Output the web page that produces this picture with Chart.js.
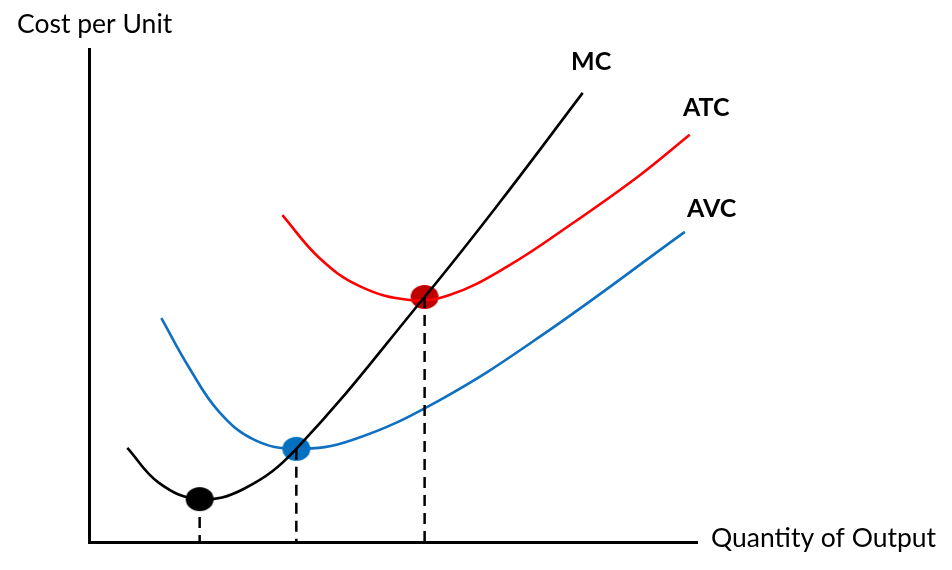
<!DOCTYPE html>
<html>
<head>
<meta charset="utf-8">
<script src="https://cdn.jsdelivr.net/npm/chart.js@4/dist/chart.umd.min.js"></script>
<style>
  html, body { margin: 0; padding: 0; background: #fff; }
  #wrap { position: relative; width: 952px; height: 570px; }
</style>
</head>
<body>
<div id="wrap"><canvas id="chart"></canvas></div>
<script>
// curves: x = quantity, y = cost (both on a 0..100 scale)
const mcX = [6.3, 11.5, 18.1, 25.5, 34.1, 55.2, 67.5, 81.2];
const mcY = [19.1, 12.0, 8.7, 10.8, 18.9, 49.7, 68.8, 91.1];

const atcX = [31.8, 37.9, 44.5, 52.7, 59.3, 68.7, 79.6, 90.6, 98.8];
const atcY = [66.3, 57.6, 51.9, 49.1, 50.1, 55.8, 64.7, 74.4, 82.6];

const avcX = [11.9, 16.5, 21.4, 27.2, 34.1, 43.3, 57.7, 74.1, 98.0];
const avcY = [45.4, 35.3, 26.4, 20.7, 18.9, 20.7, 28.8, 41.6, 62.9];

// the three marked points: min of MC, min of AVC, min of ATC
const dotX = [18.2, 34.1, 55.2];
const dotY = [8.7, 18.9, 49.7];
const dotColors = ['#000000', '#0070C0', '#C00000'];

const curveLabels = ['MC', 'ATC', 'AVC'];
const yTitle = 'Cost per Unit';
const xTitle = 'Quantity of Output';

const FONT = 'Lato, "Open Sans", sans-serif';

function toPoints(xs, ys) {
    return xs.map((x, i) => ({ x: x, y: ys[i] }));
}

// flattened circle, the dots in the picture are a little wider than tall
function ellipseDot(color) {
    const c = document.createElement('canvas');
    c.width = 30;
    c.height = 26;
    const g = c.getContext('2d');
    g.fillStyle = color;
    g.beginPath();
    g.ellipse(15, 13, 14, 12, 0, 0, Math.PI * 2);
    g.fill();
    return c;
}

function curve(label, xs, ys, color) {
    return {
        label: label,
        data: toPoints(xs, ys),
        showLine: true,
        borderColor: color,
        borderWidth: 2.6,
        pointRadius: 0,
        tension: 0.4,
        fill: false
    };
}

const datasets = [];
// dashed drops from each dot to the quantity axis
dotX.forEach((x, i) => {
    datasets.push({
        data: [{ x: x, y: dotY[i] }, { x: x, y: 0 }],
        showLine: true,
        borderColor: '#000',
        borderWidth: 2.5,
        borderDash: [11, 7],
        pointRadius: 0
    });
});
datasets.push(curve('MC', mcX, mcY, '#000000'));
datasets.push(curve('ATC', atcX, atcY, '#FF0000'));
datasets.push(curve('AVC', avcX, avcY, '#0F6FC0'));
dotX.forEach((x, i) => {
    datasets.push({
        data: [{ x: x, y: dotY[i] }],
        pointStyle: ellipseDot(dotColors[i]),
        pointRadius: 13,
        showLine: false
    });
});

const textPlugin = {
    id: 'diagram_text',
    afterDraw: (chart) => {
        const ctx = chart.ctx;
        const xs = chart.scales.x;
        const ys = chart.scales.y;
        ctx.save();
        ctx.fillStyle = '#000';
        ctx.textBaseline = 'middle';
        ctx.textAlign = 'left';

        ctx.font = '26.5px ' + FONT;
        ctx.fillText(yTitle, 17, 24);
        ctx.fillText(xTitle, xs.right + 14, ys.bottom - 4);

        // curve names sit just past the end of each curve
        ctx.font = 'bold 25px ' + FONT;
        ctx.fillText(curveLabels[0], 571, 62);
        ctx.fillText(curveLabels[1], 683, 108);
        ctx.fillText(curveLabels[2], 687, 209);
        ctx.restore();
    }
};

const axisStyle = {
    display: true,
    min: 0,
    max: 100,
    ticks: { display: false },
    grid: { display: false, drawTicks: false },
    border: { display: true, color: '#000', width: 3 }
};

new Chart(document.getElementById('chart'), {
    type: 'scatter',
    data: { datasets: datasets },
    options: {
        responsive: true,
        maintainAspectRatio: false,
        animation: false,
        events: [],
        layout: { padding: { left: 89, right: 255, top: 49, bottom: 28 } },
        plugins: {
            legend: { display: false },
            tooltip: { enabled: false }
        },
        scales: {
            x: { type: 'linear', ...axisStyle },
            y: { type: 'linear', ...axisStyle }
        }
    },
    plugins: [textPlugin]
});
</script>
</body>
</html>
